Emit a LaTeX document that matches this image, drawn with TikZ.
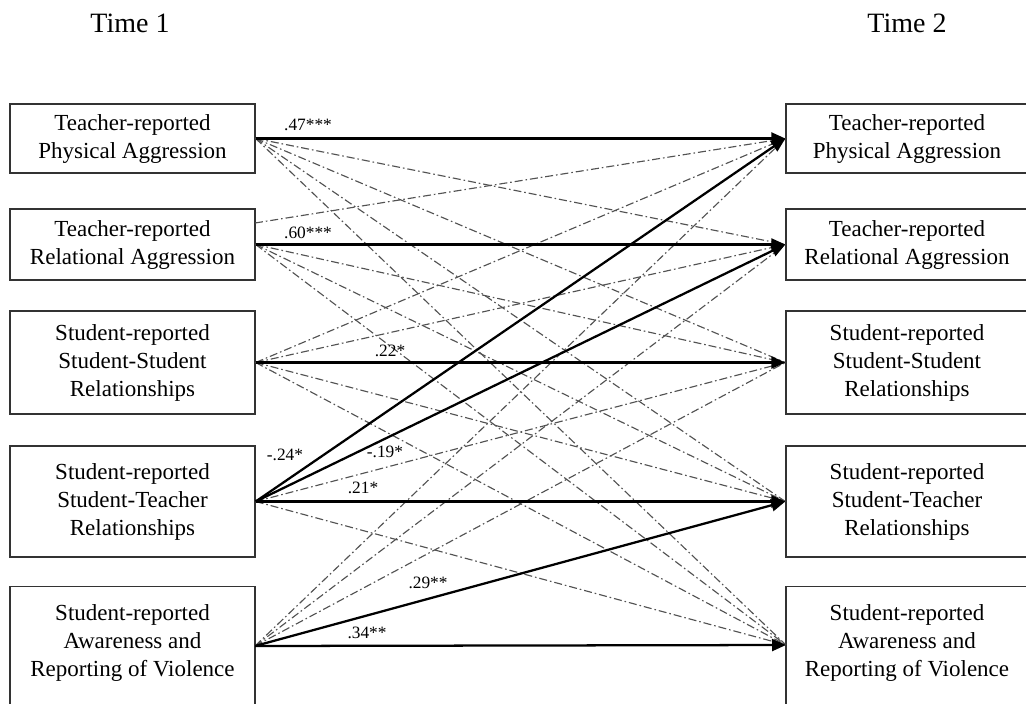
\documentclass[tikz,border=0pt]{standalone}
\usepackage{fontspec}
\setmainfont{Liberation Serif}
\usetikzlibrary{arrows.meta}
\begin{document}
\begin{tikzpicture}[x=0.75pt,y=-0.75pt,
  boxl/.style={draw=black!80, line width=1pt, minimum width=183.75pt, inner sep=0pt, align=center,
    font=\fontsize{17.25}{21}\selectfont},
  boxr/.style={boxl, minimum width=181.5pt},
  txt/.style={inner sep=0pt, align=center, font=\fontsize{17.25}{21}\selectfont},
  timelab/.style={inner sep=0pt, font=\fontsize{21}{24}\selectfont},
  coef/.style={inner sep=0pt, font=\fontsize{13}{14}\selectfont},
  sig/.style={line width=1.7pt, black, -{Triangle[length=10.5pt,width=9pt]}},
  ns/.style={line width=0.85pt, black!68, dash pattern=on 6pt off 2.2pt on 1.2pt off 2.2pt}]
\useasboundingbox (0,0) rectangle (1026,704);
% titles
\node[timelab] (t1) at (130,23) {Time 1};
\node[timelab] (t2) at (907,23) {Time 2};
% left boxes
\node[boxl, minimum height=51.75pt] (L1) at (132.5,138.5) {Teacher-reported\\Physical Aggression};
\node[boxl, minimum height=53.25pt] (L2) at (132.5,244.5) {Teacher-reported\\Relational Aggression};
\node[boxl, minimum height=77.25pt] (L3) at (132.5,362.5) {Student-reported\\Student-Student\\Relationships};
\node[boxl, minimum height=83.25pt] (L4) at (132.5,501.5) {Student-reported\\Student-Teacher\\Relationships};
\node[boxl, minimum height=97.5pt, anchor=north] (L5) at (132.5,586) {};
\node[txt] (L5t) at (132.5,643) {Student-reported\\Awareness and\\Reporting of Violence};
% right boxes
\node[boxr, minimum height=51.75pt] (R1) at (907,138.5) {Teacher-reported\\Physical Aggression};
\node[boxr, minimum height=53.25pt] (R2) at (907,244.5) {Teacher-reported\\Relational Aggression};
\node[boxr, minimum height=77.25pt] (R3) at (907,362.5) {Student-reported\\Student-Student\\Relationships};
\node[boxr, minimum height=83.25pt] (R4) at (907,501.5) {Student-reported\\Student-Teacher\\Relationships};
\node[boxr, minimum height=97.5pt, anchor=north] (R5) at (907,586) {};
\node[txt] (R5t) at (907,643) {Student-reported\\Awareness and\\Reporting of Violence};
% connection points
\coordinate (a1) at (L1.east);
\coordinate (a2) at (L2.east);
\coordinate (a2u) at (255,223);
\coordinate (a3) at (L3.east);
\coordinate (a4) at (L4.east);
\coordinate (a5) at (255,646);
\coordinate (b1) at (R1.west);
\coordinate (b2) at (R2.west);
\coordinate (b3) at (R3.west);
\coordinate (b4) at (R4.west);
\coordinate (b5) at (786,645);
% non-significant paths
\draw[ns] (a1) -- (b2);
\draw[ns] (a1) -- (b3);
\draw[ns] (a1) -- (b4);
\draw[ns] (a1) -- (b5);
\draw[ns] (a2u) -- (b1);
\draw[ns] (a2) -- (b3);
\draw[ns] (a2) -- (b4);
\draw[ns] (a2) -- (b5);
\draw[ns] (a3) -- (b1);
\draw[ns] (a3) -- (b2);
\draw[ns] (a3) -- (b4);
\draw[ns] (a3) -- (b5);
\draw[ns] (a4) -- (b3);
\draw[ns] (a4) -- (b5);
\draw[ns] (a5) -- (b1);
\draw[ns] (a5) -- (b2);
\draw[ns] (a5) -- (b3);
% significant paths
\draw[sig] (a1) -- (b1);
\draw[sig] (a2) -- (b2);
\draw[sig] (a3) -- (b3);
\draw[sig] (a4) -- (b1);
\draw[sig] (a4) -- (b2);
\draw[sig] (a4) -- (b4);
\draw[sig] (a5) -- (b4);
\draw[sig] (a5) -- (b5);
% coefficients
\node[coef] (c11) at (308,125) {.47***};
\node[coef] (c22) at (308,233) {.60***};
\node[coef] (c33) at (390,351) {.22*};
\node[coef] (c41) at (285,455) {-.24*};
\node[coef] (c42) at (385,452) {-.19*};
\node[coef] (c44) at (363,488) {.21*};
\node[coef] (c54) at (428,583) {.29**};
\node[coef] (c55) at (367,633) {.34**};
\end{tikzpicture}
\end{document}
